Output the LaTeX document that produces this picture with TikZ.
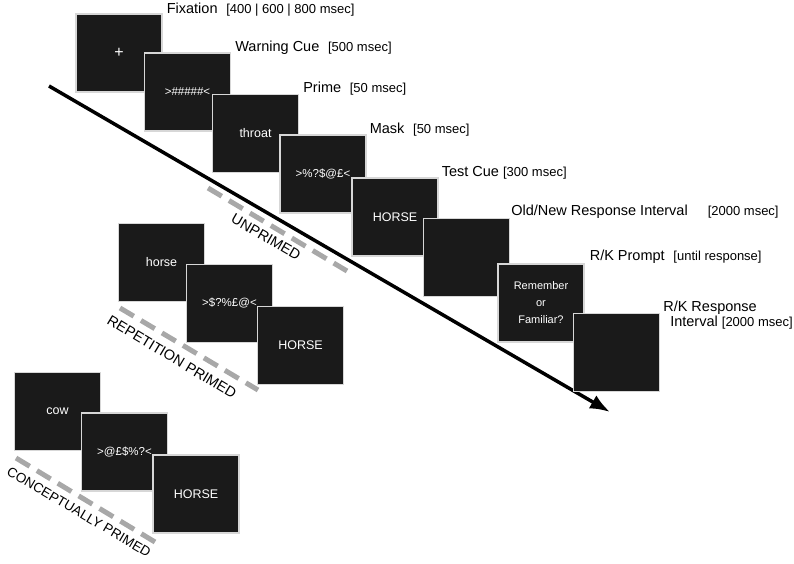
\documentclass[tikz,border=0pt]{standalone}
\usepackage{fontspec}
\setmainfont{Liberation Sans}
\usetikzlibrary{arrows.meta}
\definecolor{scrfill}{RGB}{26,26,26}
\definecolor{scrline}{RGB}{215,215,215}
\definecolor{dashgray}{RGB}{168,168,168}
\newcommand{\dur}[1]{{\fontsize{13}{15}\selectfont[#1]}}
\begin{document}
\begin{tikzpicture}[x=1pt,y=-1pt,>={Latex[length=20pt,width=15pt]},
    screen/.style={draw=scrline,fill=scrfill,line width=1.2pt,minimum width=86pt,minimum height=78pt,
        inner sep=0pt,text=white,font=\fontsize{12.5}{14}\selectfont},
    mask/.style={screen,font=\fontsize{11.5}{13}\selectfont},
    caption/.style={anchor=base west,inner sep=0pt,font=\fontsize{14.5}{16}\selectfont},
    group/.style={draw=dashgray,line width=5pt,dash pattern=on 16pt off 8.4pt},
    grouplabel/.style={font=\fontsize{14.5}{16}\selectfont}]
\useasboundingbox (0,0) rectangle (794,563);

% time line
\coordinate (t0) at (49,86);
\coordinate (t1) at (610,412);
\draw[->,line width=3.5pt] (t0)--(t1);

% trial sequence
\node[screen,font=\fontsize{16}{18}\selectfont] (fix) at (119,53) {+};
\node[mask] (warn) at (187.5,92) {>\#\#\#\#\#<};
\node[screen] (prime) at (255.5,133.5) {throat};
\node[mask] (mask) at (323,174) {>\%?\$@£<};
\node[screen] (test) at (395,217) {HORSE};
\node[screen] (oldnew) at (466.5,257.5) {};
\node[screen,align=center,font=\fontsize{11}{17}\selectfont] (prompt) at (541,303) {Remember\\or\\Familiar?};
\node[screen] (resp) at (616.5,352.5) {};

\node[caption] (lfix) at ([xshift=4pt]fix.north east) {Fixation\hspace{0.6em}\dur{400 | 600 | 800 msec}};
\node[caption] (lwarn) at ([xshift=4pt,yshift=1pt]warn.north east) {Warning Cue\hspace{0.6em}\dur{500 msec}};
\node[caption] (lprime) at ([xshift=4pt,yshift=1pt]prime.north east) {Prime\hspace{0.6em}\dur{50 msec}};
\node[caption] (lmask) at ([xshift=3pt,yshift=1pt]mask.north east) {Mask\hspace{0.6em}\dur{50 msec}};
\node[caption] (ltest) at ([xshift=3pt,yshift=1pt]test.north east) {Test Cue \dur{300 msec}};
\node[caption] (loldnew) at ([xshift=1pt,yshift=2pt]oldnew.north east) {Old/New Response Interval\hspace{20pt}\dur{2000 msec}};
\node[caption] (lprompt) at ([xshift=5pt,yshift=3pt]prompt.north east) {R/K Prompt\hspace{0.6em}\dur{until response}};
\node[caption,align=left] (lresp) at ([xshift=3pt,yshift=-14pt]resp.north east) {R/K Response\\[-1pt]\hspace*{7pt}Interval \dur{2000 msec}};

% unprimed
\coordinate (u0) at (208,188);
\coordinate (u1) at (347,271);
\draw[group] (u0)--(u1);
\node[grouplabel,rotate=-30] (lunp) at (266,237) {UNPRIMED};

% repetition primed
\node[screen] (rstudy) at (161.5,262.5) {horse};
\node[mask] (rmask) at (229.5,303.5) {>\$?\%£@<};
\node[screen] (rtest) at (300.5,345.5) {HORSE};
\coordinate (r0) at (120,308);
\coordinate (r1) at (258,390);
\draw[group] (r0)--(r1);
\node[grouplabel,rotate=-31] (lrep) at (172,357) {REPETITION PRIMED};

% conceptually primed
\node[screen] (cstudy) at (57.5,411.5) {cow};
\node[mask] (cmask) at (124.5,452) {>@£\$\%?<};
\node[screen] (ctest) at (196,494) {HORSE};
\coordinate (c0) at (16,458);
\coordinate (c1) at (155,542);
\draw[group] (c0)--(c1);
\node[grouplabel,rotate=-30.5,font=\fontsize{13.5}{16}\selectfont] (lcon) at (79,512) {CONCEPTUALLY PRIMED};
\end{tikzpicture}
\end{document}
